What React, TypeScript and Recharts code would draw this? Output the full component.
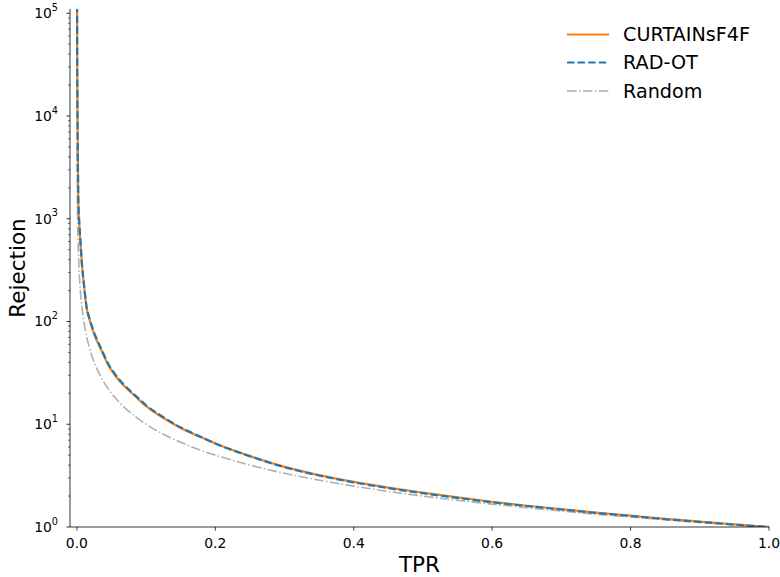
import React from 'react';
import { LineChart, Line, XAxis, YAxis, Customized } from 'recharts';

const tpr = [0.0002, 0.0005, 0.001, 0.002, 0.003, 0.005, 0.0075, 0.01, 0.014, 0.018, 0.022, 0.028, 0.035, 0.045, 0.055, 0.07, 0.085, 0.1, 0.125, 0.15, 0.175, 0.2, 0.25, 0.3, 0.35, 0.4, 0.45, 0.5, 0.55, 0.6, 0.65, 0.7, 0.75, 0.8, 0.85, 0.9, 0.95, 1.0];
const curtains = [120000, 25000, 7000, 1500, 1000, 600, 340, 230, 135, 105, 86, 67, 53, 38, 30, 23, 18.5, 15, 11.5, 9.2, 7.7, 6.5, 4.9, 3.85, 3.2, 2.75, 2.42, 2.16, 1.94, 1.76, 1.61, 1.49, 1.38, 1.29, 1.2, 1.13, 1.06, 1.0];
const radot = [120000, 26000, 7200, 1550, 1030, 615, 348, 236, 139, 108, 88, 69, 54.5, 39, 30.8, 23.5, 18.9, 15.3, 11.7, 9.3, 7.75, 6.5, 4.88, 3.82, 3.17, 2.72, 2.39, 2.13, 1.92, 1.74, 1.6, 1.48, 1.37, 1.28, 1.19, 1.12, 1.055, 1.0];
const random = [5000, 2000, 1000, 500, 333, 200, 133, 100, 71.4, 55.6, 45.5, 35.7, 28.6, 22.2, 18.2, 14.3, 11.8, 10, 8, 6.67, 5.71, 5, 4, 3.33, 2.86, 2.5, 2.22, 2, 1.82, 1.67, 1.54, 1.43, 1.33, 1.25, 1.18, 1.11, 1.05, 1.0];

const seriesNames = ['CURTAINsF4F', 'RAD-OT', 'Random'];
const seriesColors = ['#ff7f0e', '#1f77b4', '#b0b0b0'];

const xTicks = [0, 0.2, 0.4, 0.6, 0.8, 1.0];
const yMajor = [1, 10, 100, 1000, 10000, 100000];
const yMinorMult = [2, 3, 4, 5, 6, 7, 8, 9];
const yTicks: number[] = [];
yMajor.forEach((m) => {
  yTicks.push(m);
  if (m < 100000) yMinorMult.forEach((k) => yTicks.push(m * k));
});

const data = tpr.map((x, i) => ({ x, curtains: curtains[i], radot: radot[i], random: random[i] }));

const FONT = 'DejaVu Sans, sans-serif';

const XTick = (props: any) => {
  const { x, y, payload } = props;
  return (
    <g>
      <line x1={x} x2={x} y1={y} y2={y + 3.5} stroke="#000" strokeWidth={0.8} />
      <text x={x} y={y + 15.5} textAnchor="middle" dominantBaseline="central" fontFamily={FONT} fontSize={13.9} fill="#000">
        {payload.value.toFixed(1)}
      </text>
    </g>
  );
};

const YTick = (props: any) => {
  const { x, y, payload } = props;
  const v = payload.value;
  const exp = Math.round(Math.log10(v));
  const isMajor = Math.abs(Math.pow(10, exp) - v) < 1e-9;
  if (!isMajor) {
    return <line x1={x} x2={x - 2} y1={y} y2={y} stroke="#000" strokeWidth={0.6} />;
  }
  return (
    <g>
      <line x1={x} x2={x - 3.5} y1={y} y2={y} stroke="#000" strokeWidth={0.8} />
      <text x={x - 12} y={y} textAnchor="end" fontFamily={FONT} fontSize={13.9} fill="#000">
        <tspan dy="0.35em">10</tspan>
        <tspan dy="-0.75em" fontSize={9.7}>{exp}</tspan>
      </text>
    </g>
  );
};

const LegendBox = () => {
  const dashes = [undefined, '7.4 3.2', '9.6 2.4 1.5 2.4'];
  const widths = [2, 2, 1.5];
  const rows = [34.5, 62.5, 91];
  return (
    <svg width={240} height={110} style={{ position: 'absolute', left: 540, top: 0 }}>
      {seriesNames.map((n, i) => (
        <g key={n}>
          <line x1={27} x2={69} y1={rows[i]} y2={rows[i]} stroke={seriesColors[i]} strokeWidth={widths[i]} strokeDasharray={dashes[i]} />
          <text x={83} y={rows[i]} dominantBaseline="central" fontFamily={FONT} fontSize={19.2} fill="#000">
            {n}
          </text>
        </g>
      ))}
    </svg>
  );
};

const AxisLabels = () => (
  <g>
    <text x={419.5} y={564} textAnchor="middle" dominantBaseline="central" fontFamily={FONT} fontSize={21.5} fill="#000">
      TPR
    </text>
    <text x={17} y={268} textAnchor="middle" dominantBaseline="central" fontFamily={FONT} fontSize={21.5} fill="#000" transform="rotate(-90 17 268)">
      Rejection
    </text>
  </g>
);

export default function App() {
  return (
    <div style={{ position: 'absolute', left: 0, top: 0, width: 780, height: 577, background: '#fff' }}>
      <LineChart width={780} height={577} data={data} margin={{ top: 9, right: 11, bottom: 0, left: 0 }}>
        <XAxis xAxisId={0} dataKey="x" type="number" domain={[-0.01, 1.0]} allowDataOverflow ticks={xTicks} interval={0} tickLine={false} tickSize={0} tickMargin={0} tick={<XTick />} height={50} axisLine={{ stroke: '#000', strokeWidth: 0.8 }} />
        <XAxis xAxisId="top" orientation="top" dataKey="x" type="number" domain={[-0.01, 1.0]} allowDataOverflow tick={false} tickLine={false} height={0} axisLine={{ stroke: '#000', strokeWidth: 0.8 }} />
        <YAxis yAxisId={0} type="number" scale="log" domain={[1, 110000]} allowDataOverflow ticks={yTicks} interval={0} tickLine={false} tickSize={0} tickMargin={0} tick={<YTick />} width={70} axisLine={{ stroke: '#000', strokeWidth: 0.8 }} />
        <YAxis yAxisId="right" orientation="right" type="number" scale="log" domain={[1, 110000]} allowDataOverflow tick={false} tickLine={false} width={0} axisLine={{ stroke: '#000', strokeWidth: 0.8 }} />
        <Line xAxisId={0} yAxisId={0} dataKey="random" name={seriesNames[2]} type="monotone" stroke={seriesColors[2]} strokeWidth={1.6} strokeDasharray="9.6 2.4 1.5 2.4" dot={false} activeDot={false} isAnimationActive={false} />
        <Line xAxisId={0} yAxisId={0} dataKey="curtains" name={seriesNames[0]} type="monotone" stroke={seriesColors[0]} strokeWidth={2.2} dot={false} activeDot={false} isAnimationActive={false} />
        <Line xAxisId={0} yAxisId={0} dataKey="radot" name={seriesNames[1]} type="monotone" stroke={seriesColors[1]} strokeWidth={2.2} strokeDasharray="7.4 3.2" dot={false} activeDot={false} isAnimationActive={false} />
        <Customized component={AxisLabels} />
      </LineChart>
      <LegendBox />
    </div>
  );
}
